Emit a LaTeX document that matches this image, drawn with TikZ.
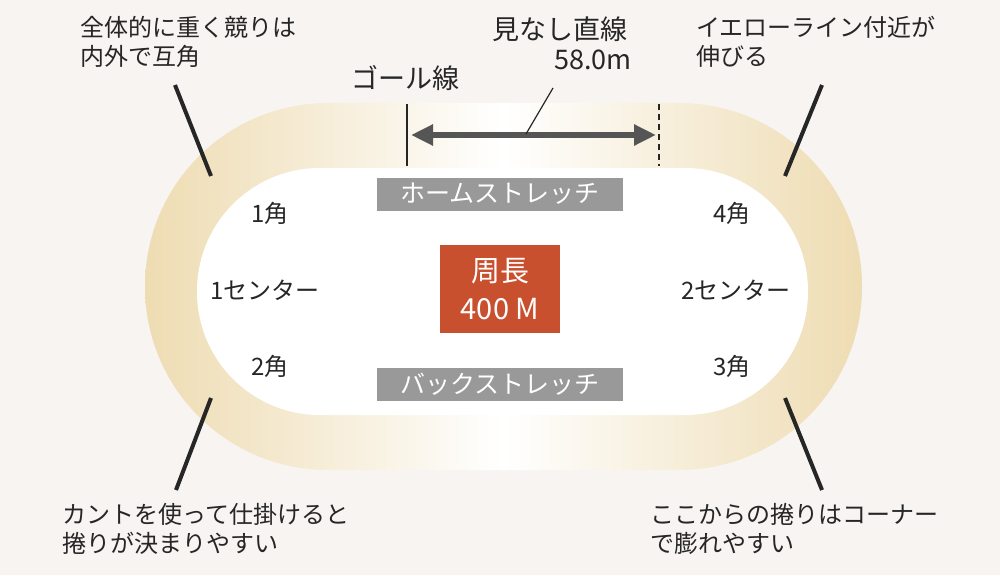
\documentclass[tikz,border=0pt]{standalone}
\usepackage{fontspec}
\usetikzlibrary{arrows.meta}
\newfontfamily\jp{Noto Sans CJK JP}
\definecolor{bg}{HTML}{F8F4F2}
\definecolor{tan}{HTML}{EEDCB2}
\definecolor{lbl}{HTML}{999999}
\definecolor{redb}{HTML}{C9502F}
\definecolor{dk}{HTML}{555555}
\begin{document}
\begin{tikzpicture}[x=1pt,y=-1pt,
  txt/.style={font=\jp\fontsize{24}{29}\selectfont,text=black!85,inner sep=0pt},
  big/.style={txt,font=\jp\fontsize{27}{30}\selectfont},
  ltxt/.style={txt,align=left,anchor=north west},
  stretch/.style={fill=lbl,text=white,font=\jp\fontsize{25}{27}\selectfont,minimum width=246pt,minimum height=33pt,inner sep=0pt},
  bar/.style={line width=4pt,black!85}]
\fill[bg] (0,0) rectangle (1000,575);
\useasboundingbox (0,0) rectangle (1000,575);
\shade[left color=tan,right color=tan,middle color=white,rounded corners=183pt] (145,103) rectangle (862,470);
\fill[white,rounded corners=123pt] (197,168) rectangle (808,415);
\coordinate (g1) at (407,104); \coordinate (g2) at (407,166);
\draw[line width=2.5pt,black!85] (g1)--(g2);
\coordinate (d1) at (659,104); \coordinate (d2) at (659,166);
\draw[line width=1.5pt,black!85,dash pattern=on 6pt off 4pt] (d1)--(d2);
\coordinate (a1) at (411,135); \coordinate (a2) at (656,135);
\draw[dk,line width=6pt,-{Triangle[length=22pt,width=20pt]}] (533,135)--(a2);
\draw[dk,line width=6pt,-{Triangle[length=22pt,width=20pt]}] (533,135)--(a1);
\node[big] (goal) at (405,78) {ゴール線};
\node[big] (mn) at (560,29) {見なし直線};
\node[big] (len) at (593,60) {58.0m};
\coordinate (p1) at (553,88); \coordinate (p2) at (526,134);
\draw[line width=1.2pt,black!85] (p1)--(p2);
\node[stretch] (home) at (500,194) {ホームストレッチ};
\node[stretch] (back) at (500,384) {バックストレッチ};
\node[fill=redb,text=white,font=\jp\fontsize{29}{38}\selectfont,align=center,minimum width=120pt,minimum height=88pt,inner sep=0pt] (c) at (500,289) {周長\\400 M};
\node[txt] (k1) at (270,213) {1角};
\node[txt] (c1) at (265,290) {1センター};
\node[txt] (k2) at (270,366) {2角};
\node[txt] (k4) at (732,213) {4角};
\node[txt] (c2) at (736,290) {2センター};
\node[txt] (k3) at (732,366) {3角};
\node[ltxt] (tl) at (80,16) {全体的に重く競りは\\内外で互角};
\node[ltxt] (tr) at (696,16) {イエローライン付近が\\伸びる};
\node[ltxt] (bl) at (62,503) {カントを使って仕掛けると\\捲りが決まりやすい};
\node[ltxt] (br) at (650,503) {ここからの捲りはコーナー\\で膨れやすい};
\draw[bar] (175,85)--(211,176);
\draw[bar] (822,85)--(785,176);
\draw[bar] (211,398)--(176,490);
\draw[bar] (785,398)--(822,490);
\end{tikzpicture}
\end{document}
